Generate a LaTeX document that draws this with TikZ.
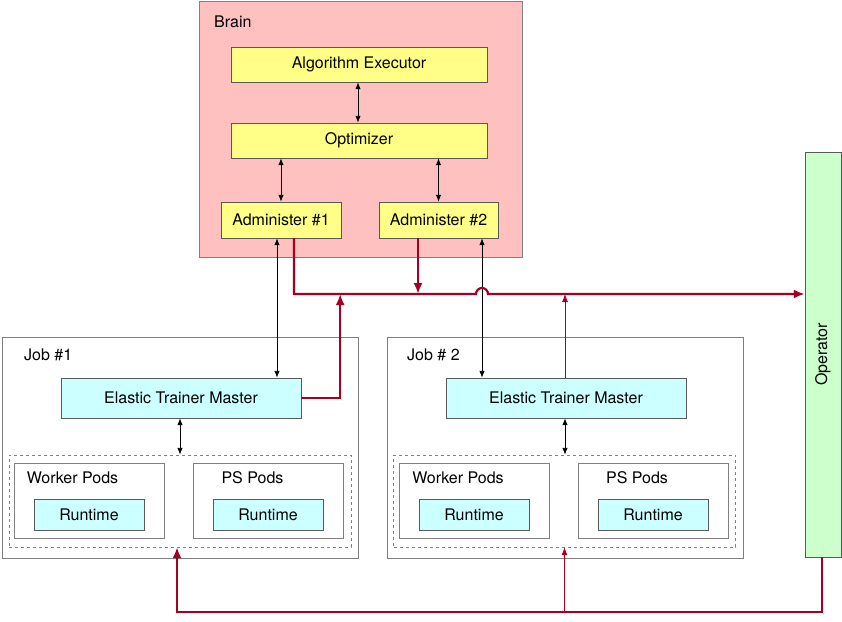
\documentclass[tikz,border=0pt]{standalone}
\usepackage{fontspec}
\setmainfont{TeX Gyre Heros}
\usepackage{tikz}
\usetikzlibrary{arrows.meta, positioning, calc}
\definecolor{brainpink}{HTML}{FFC0C0}
\definecolor{admyellow}{HTML}{FFFF88}
\definecolor{mastercyan}{HTML}{CCFFFF}
\definecolor{opgreen}{HTML}{CCFFCC}
\definecolor{ctrlred}{HTML}{A20025}

\begin{document}
\begin{tikzpicture}[x=1pt, y=-1pt, font=\fontsize{16}{19}\selectfont,
    brain/.style={rectangle, draw=gray, fill=brainpink, minimum width=323pt, minimum height=256pt},
    group/.style={rectangle, draw=gray, fill=white, minimum width=356pt, minimum height=221pt},
    block/.style={rectangle, draw=gray!70!black, fill=admyellow, minimum width=256pt, minimum height=35pt, inner sep=0pt},
    master/.style={block, fill=mastercyan, minimum width=240pt, minimum height=40pt},
    podset/.style={rectangle, draw=gray, dashed, minimum width=342pt, minimum height=92pt},
    pods/.style={rectangle, draw=gray, fill=white, minimum width=150pt, minimum height=75pt},
    runtime/.style={block, fill=mastercyan, minimum width=110pt, minimum height=31pt},
    caption/.style={anchor=west, inner sep=0pt},
    line/.style={draw, {Latex[length=7pt,width=5.5pt]}-{Latex[length=7pt,width=5.5pt]}, line width=0.9pt},
    redline/.style={draw, -{Latex[length=11pt,width=9pt]}, ctrlred, line width=2.2pt},
    thinred/.style={draw, -{Latex[length=8pt,width=6pt]}, ctrlred, line width=0.8pt}]

    \useasboundingbox (0,0) rectangle (842,621);

    % Brain
    \node [brain] (brain) at (361,129) {};
    \node [caption] (brainlabel) at (214,22) {Brain};
    \node [block] (executor) at (359,64.5) {Algorithm Executor};
    \node [block] (optimizer) at (359,140.5) {Optimizer};
    \node [block, minimum width=120pt, minimum height=36pt] (adm1) at (281,220) {Administer \#1};
    \node [block, minimum width=119pt, minimum height=36pt] (adm2) at (438.5,220) {Administer \#2};

    % Jobs
    \node [group] (job1) at (180,447.5) {};
    \node [caption] (job1label) at (24,355) {Job \#1};
    \node [master] (etm1) at (181,398) {Elastic Trainer Master};
    \node [podset] (set1) at (180,501) {};
    \node [pods] (worker1) at (89,500.5) {};
    \node (worker1label) at (72.5,478) {Worker Pods};
    \node [runtime] (rt1) at (89,514.5) {Runtime};
    \node [pods] (ps1) at (268,500.5) {};
    \node (ps1label) at (252.5,478) {PS Pods};
    \node [runtime] (rt2) at (268,514.5) {Runtime};

    \node [group] (job2) at (565,447.5) {};
    \node [caption] (job2label) at (407,355) {Job \# 2};
    \node [master] (etm2) at (566,398) {Elastic Trainer Master};
    \node [podset] (set2) at (564.5,501) {};
    \node [pods] (worker2) at (474,500.5) {};
    \node (worker2label) at (458,478) {Worker Pods};
    \node [runtime] (rt3) at (474,514.5) {Runtime};
    \node [pods] (ps2) at (653,500.5) {};
    \node (ps2label) at (637,478) {PS Pods};
    \node [runtime] (rt4) at (653,514.5) {Runtime};

    % Operator
    \node [block, fill=opgreen, minimum width=36pt, minimum height=405pt,
           label={[rotate=90]center:Operator}] (op) at (823,354.5) {};

    % Black links
    \path [line] ([xshift=-1pt]executor.south) -- ([xshift=-1pt]optimizer.north);
    \path [line] (adm1.north |- optimizer.south) -- (adm1.north);
    \path [line] (adm2.north |- optimizer.south) -- (adm2.north);
    \path [line] ([xshift=-4pt]adm1.south) -- ([xshift=-4pt]adm1.south |- etm1.north);
    \path [line] ([xshift=43.5pt]adm2.south) -- ([xshift=43.5pt]adm2.south |- etm2.north);
    \path [line] ([xshift=-1pt]etm1.south) -- ([xshift=-1pt]etm1.south |- set1.north);
    \path [line] ([xshift=-1pt]etm2.south) -- ([xshift=-1pt]etm2.south |- set2.north);

    % Red bus to the operator
    \coordinate (hop) at ([xshift=43.5pt]adm2.south |- 0,294);
    \path [redline] ([xshift=13pt]adm1.south) |- ([xshift=-6pt]hop)
        arc [start angle=180, end angle=0, radius=6pt] -- (op.west |- hop);
    \path [redline] ([xshift=-20.5pt]adm2.south) -- ([xshift=-20.5pt]adm2.south |- hop);
    \path [redline] (etm1.east) -| ([xshift=39pt]etm1.east |- hop);
    \path [thinred] ([xshift=-1pt]etm2.north) -- ([xshift=-1pt]etm2.north |- hop);

    % Feedback from the operator
    \coordinate (back) at (0,612);
    \path [redline] ([xshift=-1pt]op.south) |- ([xshift=-3pt]set1.south |- back) -- ([xshift=-3pt]set1.south);
    \path [thinred] (set2.south |- back) -- (set2.south);

\end{tikzpicture}
\end{document}
